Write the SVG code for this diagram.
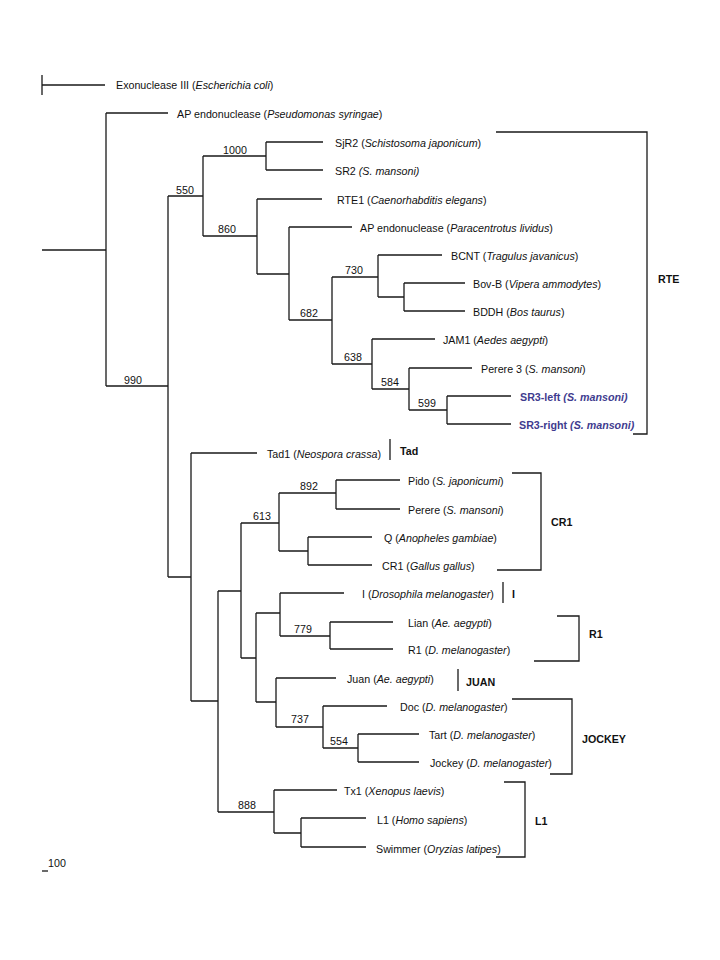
<svg xmlns="http://www.w3.org/2000/svg" width="720" height="960" viewBox="0 0 720 960">
<style>
.ln{fill:none;stroke:#1a1a1a;stroke-width:1.3}
.t{font-family:"Liberation Sans",Arial,sans-serif;font-size:10.7px;fill:#111}
.bs{font-family:"Liberation Sans",Arial,sans-serif;font-size:10.7px;fill:#111;text-anchor:middle}
.cl{font-family:"Liberation Sans",Arial,sans-serif;font-size:10.7px;font-weight:bold;fill:#111}
.sr{font-family:"Liberation Sans",Arial,sans-serif;font-size:10.7px;font-weight:bold;fill:#3f3c8f}
</style>
<rect width="720" height="960" fill="#fff"/>
<g id="connectors" class="ln">
<path d="M42 75V95M42 85H105"/>
<path d="M42 250H106M106 113V386M106 113H168M106 386H168"/>
<path d="M168 196V577M168 196H203M203 156V236M203 156H266M266 142V170M266 142H323M266 170H323"/>
<path d="M203 236H257M257 199V274M257 199H322M257 274H289M289 227V320M289 227H352"/>
<path d="M289 320H332M332 277V364M332 277H378M378 255V297M378 255H442M378 297H404M404 283V311M404 283H465M404 311H465"/>
<path d="M332 364H372M372 339V389M372 339H435M372 389H409M409 368V410M409 368H472M409 410H447M447 396V424M447 396H511M447 424H511"/>
<path d="M168 577H191M191 453V701M191 453H257M191 701H218M218 591V812"/>
<path d="M218 591H241M241 523V658M241 523H279M279 493V551M279 493H336M336 480V509M336 480H400M336 509H400M279 551H308M308 537V565M308 537H372M308 565H372"/>
<path d="M241 658H256M256 613V702M256 613H280M280 593V636M280 593H344M280 636H330M330 622V649M330 622H393M330 649H393"/>
<path d="M256 702H276M276 678V727M276 678H336M276 727H323M323 706V748M323 706H387M323 748H358M358 734V762M358 734H419M358 762H419"/>
<path d="M218 812H274M274 790V833M274 790H337M274 833H301M301 818V847M301 818H366M301 847H366"/>
<path d="M42 871H48"/>
</g>
<g id="leaf-exo"><text class="t" x="116" y="89">Exonuclease III (<tspan font-style="italic">Escherichia coli</tspan>)</text></g>
<g id="leaf-ap-ps"><text class="t" x="177" y="118">AP endonuclease (<tspan font-style="italic">Pseudomonas syringae</tspan>)</text></g>
<g id="leaf-sjr2"><text class="t" x="335" y="147">SjR2 (<tspan font-style="italic">Schistosoma japonicum</tspan>)</text></g>
<g id="leaf-sr2"><text class="t" x="335" y="175">SR2 <tspan font-style="italic">(S. mansoni)</tspan></text></g>
<g id="leaf-rte1"><text class="t" x="337" y="204">RTE1 (<tspan font-style="italic">Caenorhabditis elegans</tspan>)</text></g>
<g id="leaf-ap-pl"><text class="t" x="360" y="232">AP endonuclease (<tspan font-style="italic">Paracentrotus lividus</tspan>)</text></g>
<g id="leaf-bcnt"><text class="t" x="451" y="260">BCNT (<tspan font-style="italic">Tragulus javanicus</tspan>)</text></g>
<g id="leaf-bovb"><text class="t" x="473" y="288">Bov-B (<tspan font-style="italic">Vipera ammodytes</tspan>)</text></g>
<g id="leaf-bddh"><text class="t" x="473" y="316">BDDH (<tspan font-style="italic">Bos taurus</tspan>)</text></g>
<g id="leaf-jam1"><text class="t" x="443" y="344">JAM1 (<tspan font-style="italic">Aedes aegypti</tspan>)</text></g>
<g id="leaf-perere3"><text class="t" x="481" y="373">Perere 3 (<tspan font-style="italic">S. mansoni</tspan>)</text></g>
<g id="leaf-sr3l"><text class="sr" x="520" y="401">SR3-left <tspan font-style="italic">(S. mansoni)</tspan></text></g>
<g id="leaf-sr3r"><text class="sr" x="519" y="429">SR3-right <tspan font-style="italic">(S. mansoni)</tspan></text></g>
<g id="leaf-tad1"><text class="t" x="267" y="458">Tad1 (<tspan font-style="italic">Neospora crassa</tspan>)</text></g>
<g id="leaf-pido"><text class="t" x="408" y="485">Pido (<tspan font-style="italic">S. japonicumi</tspan>)</text></g>
<g id="leaf-perere"><text class="t" x="408" y="514">Perere (<tspan font-style="italic">S. mansoni</tspan>)</text></g>
<g id="leaf-q"><text class="t" x="384" y="542">Q (<tspan font-style="italic">Anopheles gambiae</tspan>)</text></g>
<g id="leaf-cr1"><text class="t" x="382" y="570">CR1 (<tspan font-style="italic">Gallus gallus</tspan>)</text></g>
<g id="leaf-i"><text class="t" x="362" y="598">I (<tspan font-style="italic">Drosophila melanogaster</tspan>)</text></g>
<g id="leaf-lian"><text class="t" x="408" y="627">Lian (<tspan font-style="italic">Ae. aegypti</tspan>)</text></g>
<g id="leaf-r1"><text class="t" x="408" y="654">R1 (<tspan font-style="italic">D. melanogaster</tspan>)</text></g>
<g id="leaf-juan"><text class="t" x="347" y="683">Juan (<tspan font-style="italic">Ae. aegypti</tspan>)</text></g>
<g id="leaf-doc"><text class="t" x="400" y="711">Doc (<tspan font-style="italic">D. melanogaster</tspan>)</text></g>
<g id="leaf-tart"><text class="t" x="429" y="739">Tart (<tspan font-style="italic">D. melanogaster</tspan>)</text></g>
<g id="leaf-jockey"><text class="t" x="430" y="767">Jockey (<tspan font-style="italic">D. melanogaster</tspan>)</text></g>
<g id="leaf-tx1"><text class="t" x="344" y="795">Tx1 (<tspan font-style="italic">Xenopus laevis</tspan>)</text></g>
<g id="leaf-l1"><text class="t" x="377" y="824">L1 (<tspan font-style="italic">Homo sapiens</tspan>)</text></g>
<g id="leaf-swimmer"><text class="t" x="376" y="853">Swimmer (<tspan font-style="italic">Oryzias latipes</tspan>)</text></g>
<g id="bootstrap">
<text class="bs" x="235" y="154">1000</text>
<text class="bs" x="185" y="194">550</text>
<text class="bs" x="227" y="233">860</text>
<text class="bs" x="354" y="274">730</text>
<text class="bs" x="309" y="317">682</text>
<text class="bs" x="353" y="361">638</text>
<text class="bs" x="390" y="386">584</text>
<text class="bs" x="427" y="407">599</text>
<text class="bs" x="133" y="384">990</text>
<text class="bs" x="309" y="490">892</text>
<text class="bs" x="262" y="520">613</text>
<text class="bs" x="303" y="633">779</text>
<text class="bs" x="300" y="723">737</text>
<text class="bs" x="339" y="745">554</text>
<text class="bs" x="247" y="809">888</text>
<text class="t" x="48" y="867">100</text>
</g>
<g id="clade-rte"><path class="ln" d="M496 132H647V434H633"/><text class="cl" x="658" y="283">RTE</text></g>
<g id="clade-tad"><path class="ln" d="M390 439V460"/><text class="cl" x="400" y="455">Tad</text></g>
<g id="clade-cr1"><path class="ln" d="M512 473H541V570H497"/><text class="cl" x="551" y="526">CR1</text></g>
<g id="clade-i"><path class="ln" d="M503 582V603"/><text class="cl" x="512" y="598">I</text></g>
<g id="clade-r1"><path class="ln" d="M557 616H579V661H534"/><text class="cl" x="589" y="638">R1</text></g>
<g id="clade-juan"><path class="ln" d="M458 669V691"/><text class="cl" x="466" y="686">JUAN</text></g>
<g id="clade-jockey"><path class="ln" d="M512 699H572V774H550"/><text class="cl" x="582" y="743">JOCKEY</text></g>
<g id="clade-l1"><path class="ln" d="M504 782H525V857H496"/><text class="cl" x="535" y="825">L1</text></g>
</svg>
